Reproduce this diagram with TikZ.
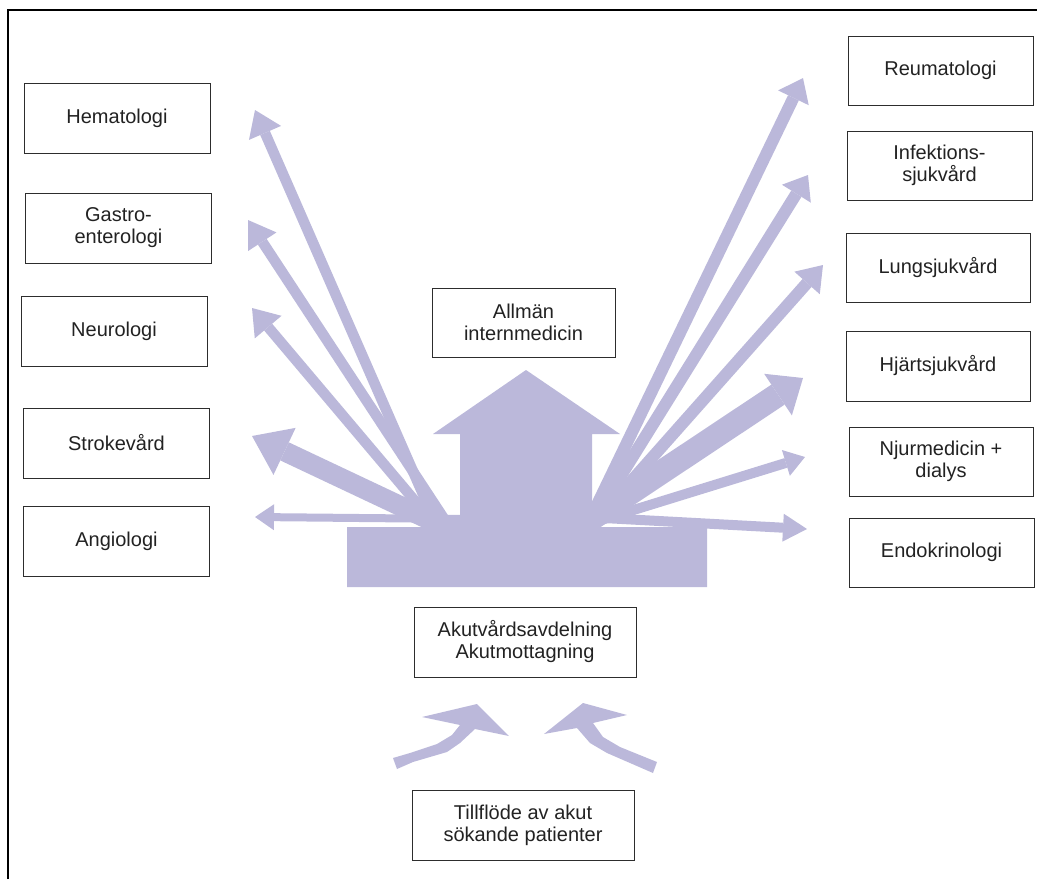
\documentclass[tikz,border=0pt]{standalone}
\usepackage{fontspec}
\setmainfont{Liberation Sans}
\usetikzlibrary{arrows.meta}
\definecolor{lav}{RGB}{187,184,218}
\definecolor{ink}{RGB}{34,34,34}
\definecolor{edge}{RGB}{45,45,45}
\begin{document}
\begin{tikzpicture}[x=1pt,y=-1pt,
  box/.style={draw=edge, line width=1pt, minimum width=186pt, minimum height=70pt,
    inner sep=0pt, align=center, font=\fontsize{20}{22}\selectfont, text=ink},
  raystyle/.style={draw=lav, line width=#1},
  blob/.style={fill=lav, draw=none}]
\useasboundingbox (0,0) rectangle (1037,879);
% frame
\draw[line width=1.5pt, black] (8,879) -- (8,10) -- (1037,10);

% boxes left
\node[box] (hema) at (117,118) {Hematologi};
\node[box] (gastro) at (118.5,228) {Gastro-\\enterologi};
\node[box] (neuro) at (114,331) {Neurologi};
\node[box] (stroke) at (116.5,443) {Strokevård};
\node[box] (angio) at (116.5,541) {Angiologi};
% boxes right
\node[box, minimum width=185pt, minimum height=69pt] (reum) at (940.5,70.5) {Reumatologi};
\node[box, minimum width=185pt, minimum height=69pt] (infek) at (939.5,165.5) {Infektions-\\sjukvård};
\node[box, minimum width=184pt, minimum height=69pt] (lung) at (938,267.5) {Lungsjukvård};
\node[box, minimum width=184pt] (hjart) at (938,366) {Hjärtsjukvård};
\node[box, minimum width=184pt, minimum height=69pt] (njur) at (941,461.5) {Njurmedicin +\\dialys};
\node[box, minimum width=185pt, minimum height=69pt] (endo) at (941.5,552.5) {Endokrinologi};
% center boxes
\node[box, minimum width=183pt, minimum height=69pt] (allm) at (523.5,322.5) {Allmän\\internmedicin};
\node[box, minimum width=222pt] (akut) at (525,642) {Akutvårdsavdelning\\Akutmottagning};
\node[box, minimum width=222pt] (till) at (523,825) {Tillflöde av akut\\sökande patienter};

% ray coordinates
\coordinate (sHema) at (443,540);   \coordinate (tHema) at (255,110);
\coordinate (sGastro) at (458,540); \coordinate (tGastro) at (248,220);
\coordinate (sNeuro) at (448,540);  \coordinate (tNeuro) at (252,308);
\coordinate (sStroke) at (466,537); \coordinate (tStroke) at (252,436);
\coordinate (sAngio) at (465,519);  \coordinate (tAngio) at (255,517);
\coordinate (sReum) at (580,540);   \coordinate (tReum) at (803,78);
\coordinate (sInfek) at (581,540);  \coordinate (tInfek) at (808,175);
\coordinate (sLung) at (579,540);   \coordinate (tLung) at (823,265);
\coordinate (sHjart) at (582,525);  \coordinate (tHjart) at (803,378);
\coordinate (sNjur) at (585,525);   \coordinate (tNjur) at (805,457);
\coordinate (sEndo) at (585,517);   \coordinate (tEndo) at (807,529);

\draw[raystyle=10.5pt, -{Triangle[length=25pt,width=35pt,line width=0pt]}] (sHema) -- (tHema);
\draw[raystyle=10.5pt, -{Triangle[length=26pt,width=34pt,line width=0pt]}] (sGastro) -- (tGastro);
\draw[raystyle=10.5pt, -{Triangle[length=25pt,width=35pt,line width=0pt]}] (sNeuro) -- (tNeuro);
\draw[raystyle=20pt, -{Triangle[length=36pt,width=52pt,line width=0pt]}] (sStroke) -- (tStroke);
\draw[raystyle=8pt, -{Triangle[length=19pt,width=26pt,line width=0pt]}] (sAngio) -- (tAngio);
\draw[raystyle=12pt, -{Triangle[length=22pt,width=34pt,line width=0pt]}] (sReum) -- (tReum);
\draw[raystyle=12pt, -{Triangle[length=22pt,width=34pt,line width=0pt]}] (sInfek) -- (tInfek);
\draw[raystyle=12pt, -{Triangle[length=24pt,width=34pt,line width=0pt]}] (sLung) -- (tLung);
\draw[raystyle=24pt, -{Triangle[length=30pt,width=50pt,line width=0pt]}] (sHjart) -- (tHjart);
\draw[raystyle=10pt, -{Triangle[length=20pt,width=27pt,line width=0pt]}] (sNjur) -- (tNjur);
\draw[raystyle=10pt, -{Triangle[length=24pt,width=28pt,line width=0pt]}] (sEndo) -- (tEndo);

% central block with up arrow
\fill[blob] (347,587) -- (347,527) -- (460,527) -- (460,434) -- (433,434) -- (526,370)
  -- (620,434) -- (592,434) -- (592,527) -- (707,527) -- (707,587) -- cycle;

% inflow arrows
\fill[blob] (393,758) -- (410,753) -- (437,744) -- (452,735) -- (460,725) -- (422,717)
  -- (477,704) -- (509,736) -- (475,729) -- (460,743) -- (447,752) -- (413,762) -- (397,769) -- cycle;
\fill[blob] (657,762) -- (620,747) -- (603,737) -- (593,723) -- (627,715) -- (583,703)
  -- (544,734) -- (577,728) -- (590,743) -- (607,753) -- (653,773) -- cycle;
\end{tikzpicture}
\end{document}
